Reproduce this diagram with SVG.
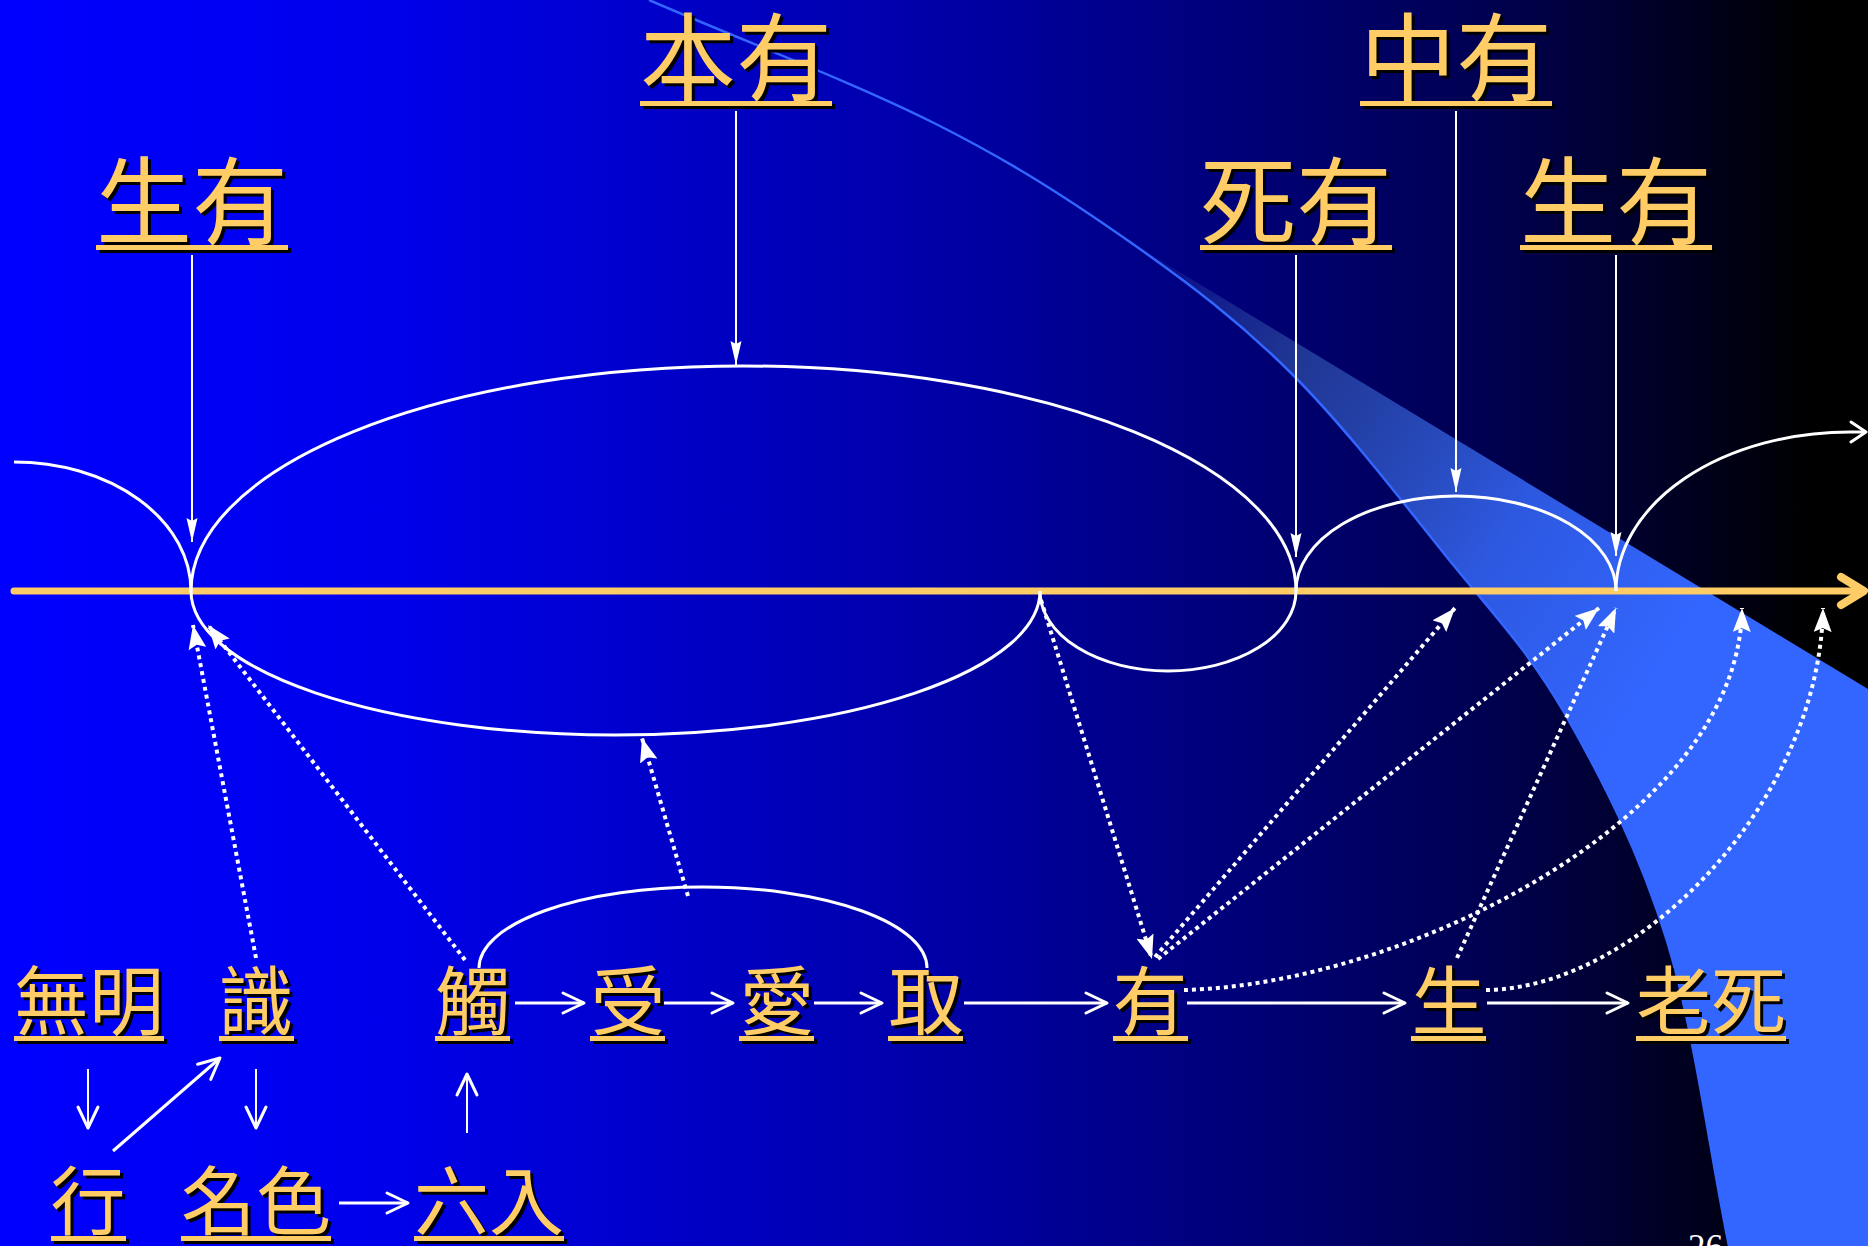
<svg xmlns="http://www.w3.org/2000/svg" width="1868" height="1246" viewBox="0 0 1868 1246">
<defs>
  <linearGradient id="bg" x1="0" y1="0" x2="1" y2="0">
    <stop offset="0" stop-color="#0000FF"/>
    <stop offset="0.2" stop-color="#0000EC"/>
    <stop offset="0.5" stop-color="#0000A8"/>
    <stop offset="0.8" stop-color="#000050"/>
    <stop offset="0.97" stop-color="#000000"/>
  </linearGradient>
  <linearGradient id="sw" gradientUnits="userSpaceOnUse" x1="1130" y1="242" x2="1700" y2="600">
    <stop offset="0" stop-color="#3a5ab0" stop-opacity="0"/>
    <stop offset="0.3" stop-color="#2a48a0" stop-opacity="0.75"/>
    <stop offset="0.7" stop-color="#2d58e0" stop-opacity="1"/>
    <stop offset="1" stop-color="#3366FF" stop-opacity="1"/>
  </linearGradient>
  <marker id="tri" markerUnits="userSpaceOnUse" viewBox="0 0 24 18" refX="24" refY="9" markerWidth="24" markerHeight="18" orient="auto">
    <path d="M0,0 L24,9 L0,18 L4,9 Z" fill="#FFFFFF"/>
  </marker>
  <marker id="thin" markerUnits="userSpaceOnUse" viewBox="0 0 24 12" refX="24" refY="6" markerWidth="24" markerHeight="12" orient="auto">
    <path d="M0,0.5 L24,6 L0,11.5 L3,6 Z" fill="#FFFFFF"/>
  </marker>
  <marker id="chev" markerUnits="userSpaceOnUse" viewBox="0 0 26 24" refX="23" refY="12" markerWidth="26" markerHeight="24" orient="auto">
    <path d="M2,2 L23,12 L2,22" fill="none" stroke="#FFFFFF" stroke-width="3" stroke-linecap="round" stroke-linejoin="round"/>
  </marker>
</defs>
<style>
  .lbl { font-family: "Noto Sans CJK TC", "Noto Sans CJK SC", sans-serif; text-anchor: middle; fill: #FFCC66; }
  .sh { fill: #000000; }
  .big { font-size: 96px; }
  .sm { font-size: 75px; }
  .ul { fill: #FFCC66; }
  .uls { fill: #000000; }
  .curve { fill: none; stroke: #FFFFFF; stroke-width: 3; }
  .vline { fill: none; stroke: #FFFFFF; stroke-width: 2; marker-end: url(#thin); }
  .dot { fill: none; stroke: #FFFFFF; stroke-width: 4; stroke-dasharray: 4 4; marker-end: url(#tri); }
  .flow { fill: none; stroke: #FFFFFF; stroke-width: 3; marker-end: url(#chev); }
  .flow2 { fill: none; stroke: #FFFFFF; stroke-width: 2; marker-end: url(#chev); }
</style>
<rect x="0" y="0" width="1868" height="1246" fill="url(#bg)"/>
<g id="swoosh">
  <path d="M1130,242 L1868,689 L1868,1246 L1729,1246 C1708.3,1144.3 1694.3,1029.7 1667,941 C1639.7,852.3 1601.8,778.2 1565,714 C1528.2,649.8 1491.7,612.8 1446,556 C1400.3,499.2 1343.7,425.3 1291,373 C1238.3,320.7 1189.5,283.7 1130,242 Z" fill="url(#sw)"/>
  <path d="M649,0 C744,41 853.8,82.7 934,123 C1014.2,163.3 1070.5,200.3 1130,242 C1189.5,283.7 1238.3,320.7 1291,373 C1343.7,425.3 1400.3,499.2 1446,556 C1491.7,612.8 1528.2,649.8 1565,714 C1601.8,778.2 1639.7,852.3 1667,941 C1694.3,1029.7 1708.3,1144.3 1729,1246" fill="none" stroke="#3366FF" stroke-width="2.5"/>
</g>
<g id="axis">
  <line x1="14" y1="591" x2="1862" y2="591" stroke="#FFCC66" stroke-width="7" stroke-linecap="round"/>
  <path d="M1841,577 L1864,591 L1841,605" fill="none" stroke="#FFCC66" stroke-width="8" stroke-linecap="round" stroke-linejoin="round"/>
</g>
<g id="connectors">
  <path class="curve" d="M14,462 A177,129 0 0 1 191,591"/>
  <path class="curve" d="M191,591 A552.5,225 0 0 1 1296,591"/>
  <path class="curve" d="M191,591 A424.5,144 0 0 0 1040,591"/>
  <path class="curve" d="M1040,591 A128,80 0 0 0 1296,591"/>
  <path class="curve" d="M1296,591 A160,95 0 0 1 1616,591"/>
  <path class="curve" d="M1616,591 A234,159 0 0 1 1850,432 L1864,432"/>
  <path d="M1851,422 L1866,432 L1851,442" fill="none" stroke="#FFFFFF" stroke-width="3" stroke-linecap="round" stroke-linejoin="round"/>
  <path class="curve" d="M479,968 A224,81 0 0 1 927,968"/>

  <line class="vline" x1="192" y1="255" x2="192" y2="542"/>
  <line class="vline" x1="736" y1="111" x2="736" y2="365"/>
  <line class="vline" x1="1456" y1="111" x2="1456" y2="492"/>
  <line class="vline" x1="1296" y1="255" x2="1296" y2="557"/>
  <line class="vline" x1="1616" y1="255" x2="1616" y2="556"/>

  <path class="dot" d="M256,958 L193,625"/>
  <path class="dot" d="M465,960 L208,625"/>
  <path class="dot" d="M688,896 L642,738"/>
  <path class="dot" d="M1041,600 L1152,959"/>
  <path class="dot" d="M1155,957 L1455,608"/>
  <path class="dot" d="M1158,959 L1599,608"/>
  <path class="dot" d="M1457,958 L1616,608"/>
  <path class="dot" d="M1184,990 C1400,985 1740,820 1742,608"/>
  <path class="dot" d="M1486,990 C1640,988 1820,800 1823,608"/>

  <line class="flow" x1="515" y1="1003" x2="584" y2="1003"/>
  <line class="flow" x1="664" y1="1003" x2="733" y2="1003"/>
  <line class="flow" x1="814" y1="1003" x2="882" y2="1003"/>
  <line class="flow" x1="964" y1="1003" x2="1107" y2="1003"/>
  <line class="flow" x1="1187" y1="1003" x2="1405" y2="1003"/>
  <line class="flow" x1="1487" y1="1003" x2="1628" y2="1003"/>

  <line class="flow2" x1="88" y1="1069" x2="88" y2="1128"/>
  <line class="flow2" x1="256" y1="1069" x2="256" y2="1128"/>
  <line class="flow2" x1="467" y1="1133" x2="467" y2="1074"/>
  <line class="flow" x1="113" y1="1151" x2="220" y2="1058" stroke-width="4"/>
  <line class="flow" x1="339" y1="1203" x2="408" y2="1203"/>
</g>

<g id="n-benyou">
  <text class="lbl sh big" x="739" y="96">本有</text>
  <text class="lbl big" x="736" y="93">本有</text>
  <rect class="uls" x="643" y="104" width="192" height="5"/>
  <rect class="ul" x="640" y="101" width="192" height="5"/>
</g>
<g id="n-zhongyou">
  <text class="lbl sh big" x="1459" y="96">中有</text>
  <text class="lbl big" x="1456" y="93">中有</text>
  <rect class="uls" x="1363" y="104" width="192" height="5"/>
  <rect class="ul" x="1360" y="101" width="192" height="5"/>
</g>
<g id="n-shengyou-l">
  <text class="lbl sh big" x="195" y="240">生有</text>
  <text class="lbl big" x="192" y="237">生有</text>
  <rect class="uls" x="99" y="248" width="192" height="5"/>
  <rect class="ul" x="96" y="245" width="192" height="5"/>
</g>
<g id="n-siyou">
  <text class="lbl sh big" x="1299" y="240">死有</text>
  <text class="lbl big" x="1296" y="237">死有</text>
  <rect class="uls" x="1203" y="248" width="192" height="5"/>
  <rect class="ul" x="1200" y="245" width="192" height="5"/>
</g>
<g id="n-shengyou-r">
  <text class="lbl sh big" x="1619" y="240">生有</text>
  <text class="lbl big" x="1616" y="237">生有</text>
  <rect class="uls" x="1523" y="248" width="192" height="5"/>
  <rect class="ul" x="1520" y="245" width="192" height="5"/>
</g>

<g id="n-wuming">
  <text class="lbl sh sm" x="92" y="1032">無明</text>
  <text class="lbl sm" x="89" y="1029">無明</text>
  <rect class="uls" x="17" y="1039" width="150" height="5"/>
  <rect class="ul" x="14" y="1036" width="150" height="5"/>
</g>
<g id="n-shi">
  <text class="lbl sh sm" x="259" y="1032">識</text>
  <text class="lbl sm" x="256" y="1029">識</text>
  <rect class="uls" x="222" y="1039" width="75" height="5"/>
  <rect class="ul" x="219" y="1036" width="75" height="5"/>
</g>
<g id="n-chu">
  <text class="lbl sh sm" x="476" y="1032">觸</text>
  <text class="lbl sm" x="473" y="1029">觸</text>
  <rect class="uls" x="438" y="1039" width="75" height="5"/>
  <rect class="ul" x="435" y="1036" width="75" height="5"/>
</g>
<g id="n-shou">
  <text class="lbl sh sm" x="631" y="1032">受</text>
  <text class="lbl sm" x="628" y="1029">受</text>
  <rect class="uls" x="593" y="1039" width="75" height="5"/>
  <rect class="ul" x="590" y="1036" width="75" height="5"/>
</g>
<g id="n-ai">
  <text class="lbl sh sm" x="780" y="1032">愛</text>
  <text class="lbl sm" x="777" y="1029">愛</text>
  <rect class="uls" x="742" y="1039" width="75" height="5"/>
  <rect class="ul" x="739" y="1036" width="75" height="5"/>
</g>
<g id="n-qu">
  <text class="lbl sh sm" x="929" y="1032">取</text>
  <text class="lbl sm" x="926" y="1029">取</text>
  <rect class="uls" x="891" y="1039" width="75" height="5"/>
  <rect class="ul" x="888" y="1036" width="75" height="5"/>
</g>
<g id="n-you">
  <text class="lbl sh sm" x="1153" y="1032">有</text>
  <text class="lbl sm" x="1150" y="1029">有</text>
  <rect class="uls" x="1116" y="1039" width="75" height="5"/>
  <rect class="ul" x="1113" y="1036" width="75" height="5"/>
</g>
<g id="n-sheng">
  <text class="lbl sh sm" x="1452" y="1032">生</text>
  <text class="lbl sm" x="1449" y="1029">生</text>
  <rect class="uls" x="1414" y="1039" width="75" height="5"/>
  <rect class="ul" x="1411" y="1036" width="75" height="5"/>
</g>
<g id="n-laosi">
  <text class="lbl sh sm" x="1714" y="1032">老死</text>
  <text class="lbl sm" x="1711" y="1029">老死</text>
  <rect class="uls" x="1639" y="1039" width="150" height="5"/>
  <rect class="ul" x="1636" y="1036" width="150" height="5"/>
</g>
<g id="n-xing">
  <text class="lbl sh sm" x="91" y="1232">行</text>
  <text class="lbl sm" x="88" y="1229">行</text>
  <rect class="uls" x="54" y="1239" width="75" height="5"/>
  <rect class="ul" x="51" y="1236" width="75" height="5"/>
</g>
<g id="n-mingse">
  <text class="lbl sh sm" x="259" y="1232">名色</text>
  <text class="lbl sm" x="256" y="1229">名色</text>
  <rect class="uls" x="184" y="1239" width="150" height="5"/>
  <rect class="ul" x="181" y="1236" width="150" height="5"/>
</g>
<g id="n-liuru">
  <text class="lbl sh sm" x="492" y="1232">六入</text>
  <text class="lbl sm" x="489" y="1229">六入</text>
  <rect class="uls" x="417" y="1239" width="150" height="5"/>
  <rect class="ul" x="414" y="1236" width="150" height="5"/>
</g>
<text x="1688" y="1259" font-family="Liberation Serif, serif" font-size="35" fill="#FFFFFF">26</text>
</svg>
